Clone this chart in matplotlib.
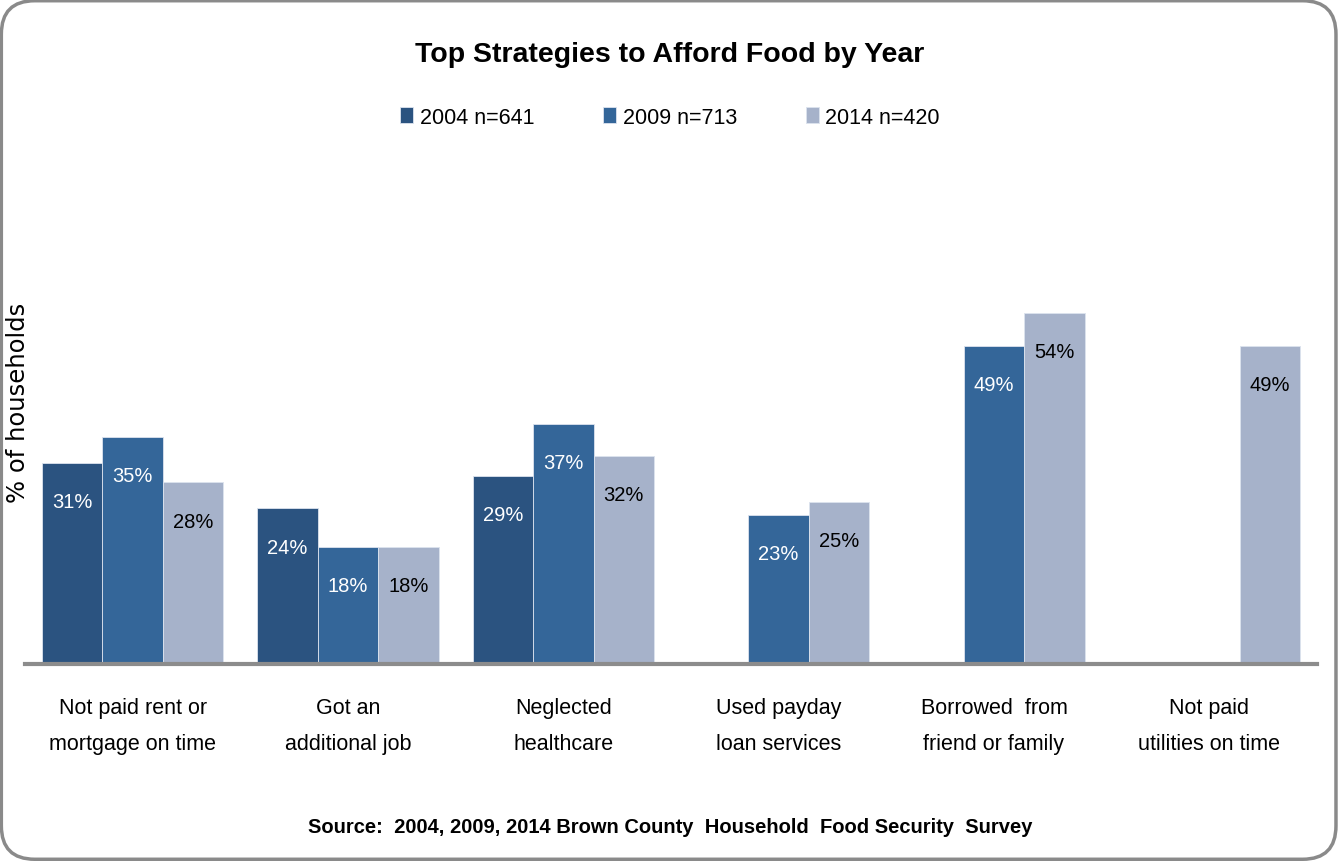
import numpy as np
import matplotlib.pyplot as plt
from matplotlib.patches import FancyBboxPatch

plt.rcParams['font.family'] = ['Liberation Sans Narrow', 'Liberation Sans', 'DejaVu Sans']

categories = ['Not paid rent or\nmortgage on time', 'Got an\nadditional job', 'Neglected\nhealthcare',
              'Used payday\nloan services', 'Borrowed  from\nfriend or family', 'Not paid\nutilities on time']
series_names = ['2004 n=641', '2009 n=713', '2014 n=420']
values_2004 = [31, 24, 29, None, None, None]
values_2009 = [35, 18, 37, 23, 49, None]
values_2014 = [28, 18, 32, 25, 54, 49]

colors = ['#2B5380', '#346699', '#A6B2CA']
text_colors = ['white', 'white', 'black']

fig = plt.figure(figsize=(13.4, 8.62), dpi=100)

# rounded frame around the whole chart
frame = FancyBboxPatch((0.001, 0.002), 0.996, 0.996, boxstyle='round,pad=0,rounding_size=0.025',
                       transform=fig.transFigure, facecolor='none', edgecolor='#8A8A8A',
                       linewidth=2.5, mutation_aspect=1340 / 862, zorder=-1)
fig.patches.append(frame)

ax = fig.add_axes([25 / 1340, (862 - 665) / 862, 1292 / 1340, 520 / 862])
ax.patch.set_alpha(0)

x = np.arange(len(categories))
width = 0.281
all_series = [values_2004, values_2009, values_2014]
for i, vals in enumerate(all_series):
    pos = x + (i - 1) * width
    h = [v if v is not None else 0 for v in vals]
    ax.bar(pos, h, width, color=colors[i], edgecolor='#DCE3EE', linewidth=0.6,
           label=series_names[i])
    for p, v in zip(pos, vals):
        if v is None:
            continue
        ax.text(p, v - 6, f'{v}%', ha='center', va='center', fontsize=14.5, color=text_colors[i])

ax.set_xlim(-0.5, 5.5)
ax.set_ylim(0, 80)
ax.set_yticks([])
ax.set_xticks([])
for s in ['top', 'right', 'left']:
    ax.spines[s].set_visible(False)
ax.spines['bottom'].set_color('#8C8C8C')
ax.spines['bottom'].set_linewidth(3)

# two-line category names under each group
for xi, c in zip(x, categories):
    ax.text(xi, -5.1, c, ha='center', va='top', fontsize=15.5, linespacing=1.95)

fig.text(18 / 1340, 1 - 403 / 862, '% of households', rotation=90, ha='center', va='center',
         fontsize=17.5, family='DejaVu Sans')

fig.text(0.5, 1 - 55 / 862, 'Top Strategies to Afford Food by Year', ha='center', va='center',
         fontsize=20.5, fontweight='bold')

fig.legend(loc='center', bbox_to_anchor=(0.5, 1 - 118 / 862), ncol=3, frameon=False,
           fontsize=15.5, handlelength=0.6, handleheight=0.8, handletextpad=0.3, columnspacing=3.2)

fig.text(0.5, 1 - 828 / 862, 'Source:  2004, 2009, 2014 Brown County  Household  Food Security  Survey',
         ha='center', va='center', fontsize=14.5, fontweight='bold')

fig.savefig('out.png', dpi=100)
